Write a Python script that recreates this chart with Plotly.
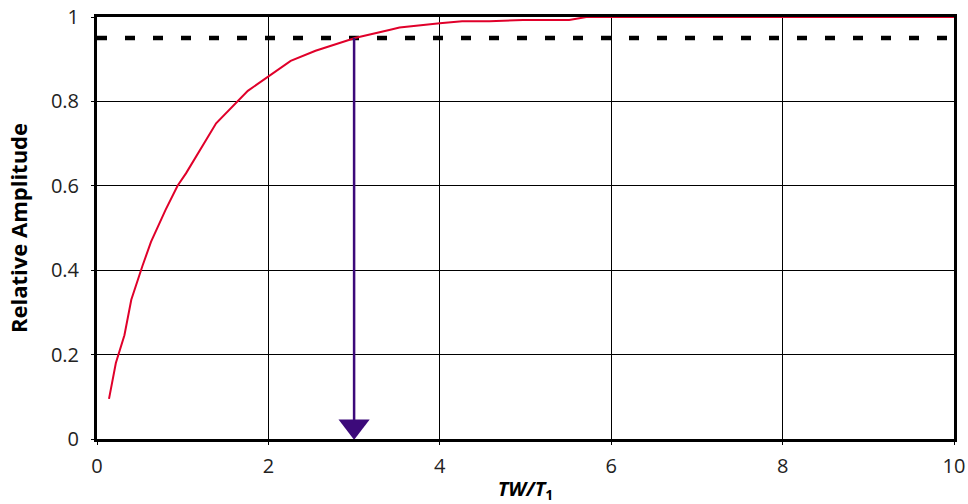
import plotly.graph_objects as go

# response curve
tw_t1 = [0.14, 0.22, 0.32, 0.40, 0.53, 0.63, 0.80, 0.94, 1.04, 1.39, 1.76, 2.01,
         2.26, 2.55, 3.02, 3.41, 3.53, 4.0, 4.26, 4.58, 4.97, 5.51, 5.71, 10.0]
rel_amp = [0.095, 0.18, 0.246, 0.33, 0.41, 0.467, 0.543, 0.60, 0.63, 0.748, 0.825, 0.86,
           0.896, 0.92, 0.951, 0.969, 0.975, 0.985, 0.99, 0.99, 0.993, 0.993, 1.0, 1.0]

# 95% threshold line
thresh_x = [0, 10]
thresh_y = [0.95, 0.95]

# arrow dropping from crossing point to the axis
arrow_x = [3.0, 3.0]
arrow_y = [0.95, 0.03]

fig = go.Figure()
fig.add_trace(go.Scatter(x=thresh_x, y=thresh_y, mode="lines",
                         line=dict(color="black", width=4.5, dash="10px,18px"),
                         hoverinfo="skip"))
fig.add_trace(go.Scatter(x=tw_t1, y=rel_amp, mode="lines",
                         line=dict(color="#e0002a", width=2)))
fig.add_trace(go.Scatter(x=arrow_x, y=arrow_y, mode="lines",
                         line=dict(color="#3c0a7a", width=2.5)))
fig.add_trace(go.Scatter(x=[arrow_x[1]], y=[arrow_y[1]], mode="markers",
                         marker=dict(symbol="triangle-down", size=27, color="#3c0a7a",
                                     line=dict(width=0))))

axis_style = dict(showline=True, linecolor="black", linewidth=3, mirror=True,
                  showgrid=True, gridcolor="black", gridwidth=1, zeroline=False,
                  ticks="outside", ticklen=3, tickcolor="black", automargin=False,
                  ticklabeloverflow="allow",
                  tickfont=dict(family="Open Sans", size=20, color="#222"))

fig.update_layout(
    width=968, height=504,
    margin=dict(l=97, r=14, t=17, b=65),
    plot_bgcolor="white", paper_bgcolor="white",
    showlegend=False,
    xaxis=dict(range=[0, 10], dtick=2, ticklabelstandoff=4,
               title=dict(text="<b><i>TW/T</i><sub>1</sub></b>",
                          font=dict(family="Open Sans", size=20, color="black"), standoff=4),
               **axis_style),
    yaxis=dict(range=[0, 1], dtick=0.2, tickformat="~g", ticklabelstandoff=8,
               title=dict(text="<b>Relative Amplitude</b>",
                          font=dict(family="Open Sans", size=22, color="black"), standoff=18),
               **axis_style),
)

# drop the default 8px body margin so the figure fills the window exactly
fig.write_html("out.html", config={"displayModeBar": False},
               post_script="document.body.style.margin='0';")
